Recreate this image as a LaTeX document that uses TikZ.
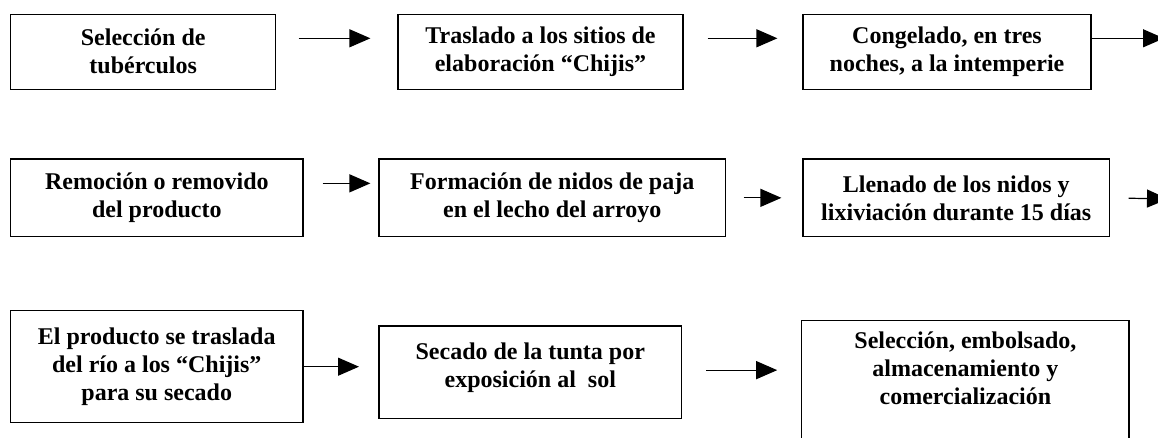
\documentclass[tikz,border=0pt]{standalone}
\usepackage{fontspec}
\setmainfont{Liberation Serif}
\usetikzlibrary{arrows.meta}

\begin{document}
\begin{tikzpicture}[x=0.5pt,y=-0.5pt,
	texto/.style={align=center,font=\bfseries\fontsize{12}{14}\selectfont},
	paso/.style={texto,draw,line width=0.6pt,rectangle,inner sep=0pt},
	flecha/.style={line width=0.6pt,-{Triangle[length=10.5pt,width=9pt]}}]
	\useasboundingbox (0,0) rectangle (1158,438);
	\node[paso,minimum width=132.5pt,minimum height=37.5pt] (1) at (143.2,51.8) {Selección de\\tubérculos};
	\node[paso,minimum width=142.5pt,minimum height=37.5pt] (2) at (540.5,51.8) {Traslado a los sitios de\\elaboración “Chijis”};
	\node[paso,minimum width=144pt,minimum height=37.5pt] (3) at (947,51.8) {Congelado, en tres\\noches, a la intemperie};
	\coordinate (f3) at (1164,38.3);
	\node[paso,minimum width=146.15pt,minimum height=38.85pt] (4) at (156.85,197.85) {Remoción o removido\\del producto};
	\node[paso,minimum width=173.25pt,minimum height=38.85pt] (5) at (552.25,197.85) {Formación de nidos de paja\\en el lecho del arroyo};
	\node[paso,minimum width=153.25pt,minimum height=38.85pt] (6) at (956.25,197.85) {Llenado de los nidos y\\lixiviación durante 15 días};
	\coordinate (f6) at (1168,199);
	\node[paso,minimum width=146.25pt,minimum height=56pt] (7) at (156.75,366.7) {El producto se traslada\\del río a los “Chijis”\\para su secado};
	\node[paso,minimum width=151.3pt,minimum height=46.15pt,label={[texto,anchor=north,inner sep=0pt,yshift=-8.5pt]north:Secado de la tunta por\\exposición al\ \ sol}] (8) at (530.3,372.15) {};
	\node[paso,minimum width=163.6pt,minimum height=69.65pt,label={[texto,anchor=north,inner sep=0pt,yshift=-5.5pt]north:Selección, embolsado,\\almacenamiento y\\comercialización}] (9) at (965.4,390.35) {};
	\draw[flecha,shorten <=11.2pt,shorten >=13.5pt] ([yshift=6.75pt]1.east) -- ([yshift=6.75pt]1.east -| 2.west);
	\draw[flecha,shorten <=12pt,shorten >=12.5pt] ([yshift=6.75pt]2.east) -- ([yshift=6.75pt]2.east -| 3.west);
	\draw[flecha] ([yshift=6.75pt]3.east) -- (f3);
	\draw[flecha,shorten <=9.5pt,shorten >=4pt] ([yshift=7.25pt]4.east) -- ([yshift=7.25pt]4.east -| 5.west);
	\draw[flecha,shorten <=8.75pt,shorten >=10.5pt] (5.east) -- (5.east -| 6.west);
	\draw[flecha,shorten <=9.25pt] (6.east) -- (f6);
	\draw[flecha,shorten >=9.7pt] (7.east) -- (7.east -| 8.west);
	\draw[flecha,shorten <=12pt,shorten >=12pt] ([yshift=1pt]8.east) -- ([yshift=1pt]8.east -| 9.west);
\end{tikzpicture}
\end{document}
